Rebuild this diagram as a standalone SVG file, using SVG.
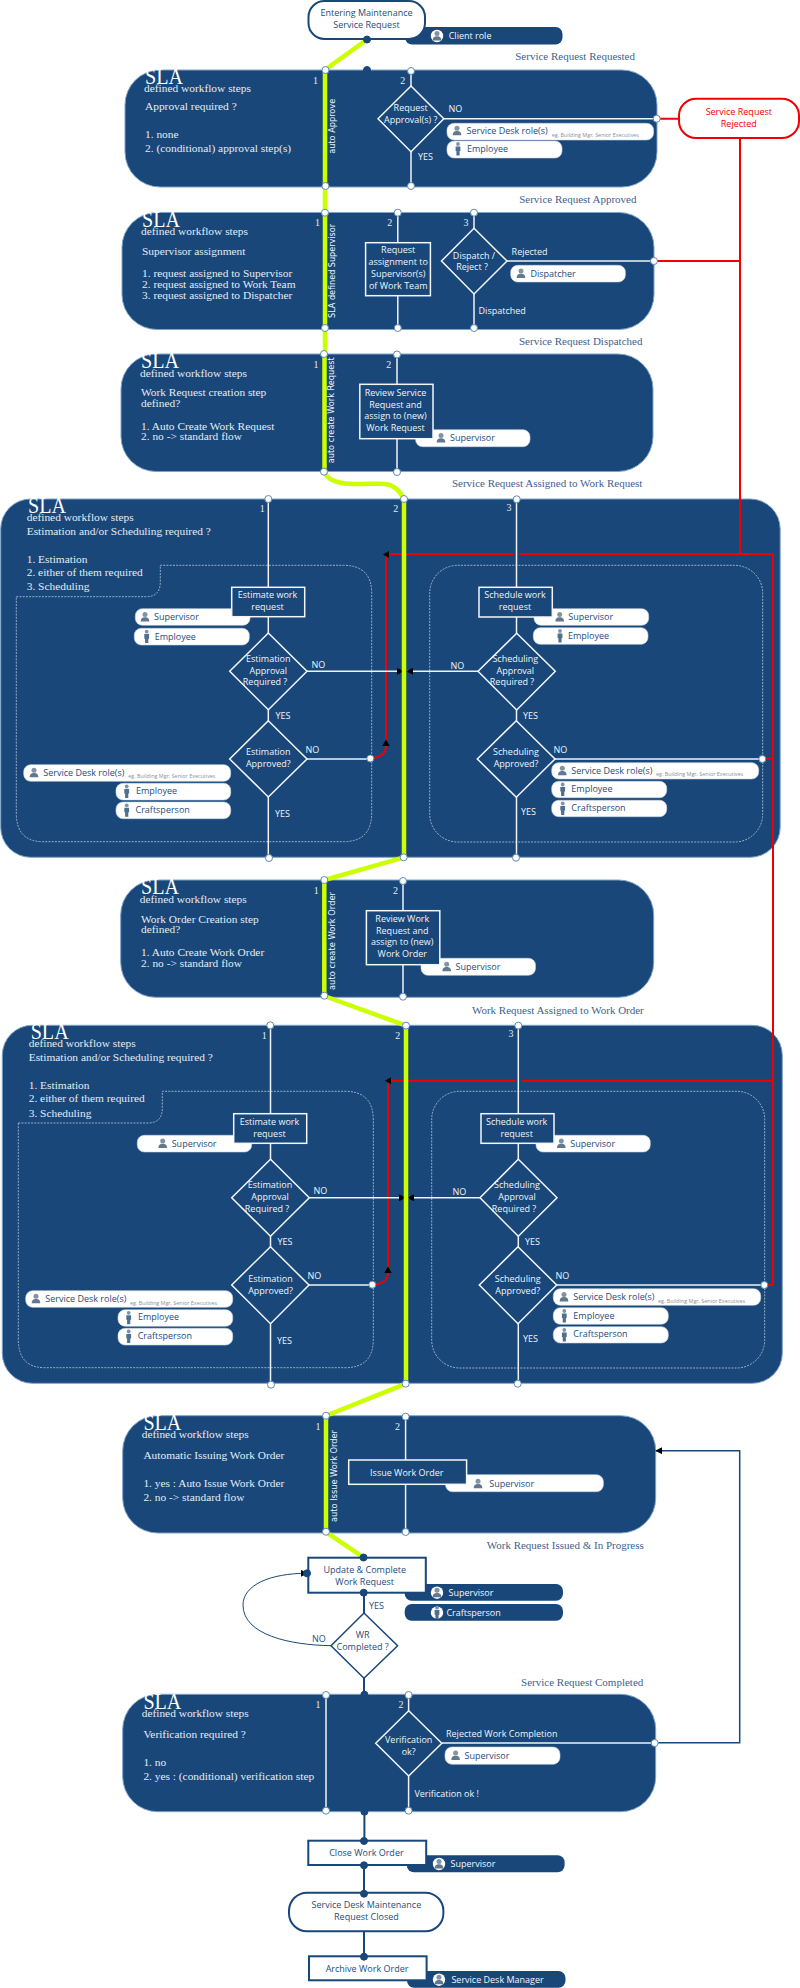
<svg xmlns="http://www.w3.org/2000/svg" width="800" height="1988" viewBox="0 0 800 1988">
<style>
.sw{fill:#19477a;stroke:#7ea3c8;stroke-width:1}
.wl{fill:none;stroke:#eef3f8;stroke-width:1.5}
.gr{fill:none;stroke:#ccff00;stroke-width:4.5}
.rd{fill:none;stroke:#f00000;stroke-width:2}
.nv{fill:none;stroke:#19477a;stroke-width:2}
.nt{fill:none;stroke:#19477a;stroke-width:1}
.dash{fill:none;stroke:#b9c9da;stroke-width:.8;stroke-dasharray:2 1.2}
.pd{fill:#fff;stroke:#5d8ab6;stroke-width:1}
.nd{fill:#19477a;stroke:#19477a;stroke-width:1}
.pw{fill:#fff;stroke:#c8d6e4;stroke-width:.6}
.pn{fill:#19477a}
.sb{fill:#19477a;stroke:#f2f6fa;stroke-width:1.5}
.fb{fill:#fff;stroke:#19477a;stroke-width:2}
.tm{fill:#fff;stroke:#19477a;stroke-width:2}
text{font-family:"Open Sans","Noto Sans",sans-serif;font-size:9px}
.t{fill:#f0f4f8;text-anchor:middle}
.l{fill:#f0f4f8}
.n{fill:#1f4b7c}
.nm{fill:#1f4b7c;text-anchor:middle}
.w{fill:#f4f7fa}
.eg{fill:#8b8f95;font-size:5.4px}
.r{fill:#f00000;text-anchor:middle}
.v{fill:#f0f4f8;text-anchor:middle;font-family:"DejaVu Sans",sans-serif;font-size:9px}
.se{font-family:"Liberation Serif",serif;font-size:11.4px;fill:#e4ebf2}
.sla{font-family:"Liberation Serif",serif;font-size:22.5px;fill:#fff}
.st{font-family:"Liberation Serif",serif;font-size:11px;fill:#3f628c;text-anchor:end}
.num{font-family:"Liberation Serif",serif;font-size:10px;fill:#e4ebf2;text-anchor:middle}
</style>
<defs>
<marker id="ab" viewBox="0 0 8 8" refX="7" refY="4" markerWidth="7" markerHeight="7" markerUnits="userSpaceOnUse" orient="auto"><path d="M0 0L8 4L0 8Z" fill="#000"/></marker>
<g id="ub"><circle cx="0" cy="-2.4" r="2.5" fill="#8293a6"/><path d="M-4.3 4.6C-4.3 1.2-2.6.2 0 .2S4.3 1.2 4.3 4.6Z" fill="#62788f"/></g>
<g id="man"><circle cx="0" cy="-5" r="1.9" fill="#7f92a6"/><path d="M-2.4-2.6H2.4V2H1.6V6.4H-1.6V2H-2.4Z" fill="#4f6f90"/></g>
<g id="ubc"><circle r="6.2" fill="#fff"/><use href="#ub"/></g>
<g id="manc"><circle r="6.2" fill="#fff"/><use href="#man"/></g>
</defs>

<g id="sla1"><rect class="sw" x="125" y="70" width="532" height="117" rx="35"/>
<text class="sla" x="145" y="84" textLength="38" lengthAdjust="spacingAndGlyphs">SLA</text><text class="se" x="144" y="92">defined workflow steps</text><text class="se" x="145" y="110">Approval required ?</text><text class="se" x="145" y="138">1. none</text><text class="se" x="145" y="152">2. (conditional) approval step(s)</text></g>
<g id="sla2"><rect class="sw" x="122" y="212.5" width="532" height="117" rx="35"/>
<text class="sla" x="142" y="226.5" textLength="38" lengthAdjust="spacingAndGlyphs">SLA</text><text class="se" x="141" y="235">defined workflow steps</text><text class="se" x="142" y="254.5">Supervisor assignment</text><text class="se" x="142" y="276.5">1. request assigned to Supervisor</text><text class="se" x="142" y="287.5">2. request assigned to Work Team</text><text class="se" x="142" y="299">3. request assigned to Dispatcher</text></g>
<g id="sla3"><rect class="sw" x="121" y="354" width="532" height="117.5" rx="35"/>
<text class="sla" x="141" y="368" textLength="38" lengthAdjust="spacingAndGlyphs">SLA</text><text class="se" x="140" y="376.5">defined workflow steps</text><text class="se" x="141" y="396">Work Request creation step</text><text class="se" x="141" y="407">defined?</text><text class="se" x="141" y="429.5">1. Auto Create Work Request</text><text class="se" x="141" y="440">2. no -&gt; standard flow</text></g>
<g id="sla4"><rect class="sw" x=".7" y="499" width="779.5" height="358.3" rx="30"/>
<text class="sla" x="28" y="513" textLength="38" lengthAdjust="spacingAndGlyphs">SLA</text><text class="se" x="26.7" y="521">defined workflow steps</text><text class="se" x="26.7" y="534.5">Estimation and/or Scheduling required ?</text><text class="se" x="26.7" y="562.5">1. Estimation</text><text class="se" x="26.7" y="576">2. either of them required</text><text class="se" x="26.7" y="590">3. Scheduling</text>
<path class="dash" d="M16.3 596.7H146Q160.3 596.7 160.3 582V565.3H343.3Q371.7 565.3 371.7 593.3V813Q371.7 841.7 343.3 841.7H43Q16.3 841.7 16.3 813Z"/><rect class="dash" x="429.7" y="565.3" width="333" height="276.7" rx="28"/></g>
<g id="sla5"><rect class="sw" x="120.7" y="880" width="533" height="117.3" rx="35"/>
<text class="sla" x="141" y="894" textLength="38" lengthAdjust="spacingAndGlyphs">SLA</text><text class="se" x="139.8" y="902.5">defined workflow steps</text><text class="se" x="141" y="922.5">Work Order Creation step</text><text class="se" x="141" y="933">defined?</text><text class="se" x="141" y="955.5">1. Auto Create Work Order</text><text class="se" x="141" y="966.5">2. no -&gt; standard flow</text></g>
<g id="sla6"><rect class="sw" x="2.3" y="1025.3" width="780" height="358" rx="30"/>
<text class="sla" x="30.7" y="1039.3" textLength="38" lengthAdjust="spacingAndGlyphs">SLA</text><text class="se" x="28.7" y="1047">defined workflow steps</text><text class="se" x="28.7" y="1061">Estimation and/or Scheduling required ?</text><text class="se" x="28.7" y="1089">1. Estimation</text><text class="se" x="28.7" y="1102">2. either of them required</text><text class="se" x="28.7" y="1116.5">3. Scheduling</text>
<path class="dash" d="M18.3 1123H148Q162.3 1123 162.3 1108V1091.3H345Q373.3 1091.3 373.3 1120V1339.5Q373.3 1367.7 345 1367.7H45Q18.3 1367.7 18.3 1339.5Z"/><rect class="dash" x="431.7" y="1091.3" width="333" height="276.7" rx="28"/></g>
<g id="sla7"><rect class="sw" x="122.7" y="1415.7" width="533" height="117.3" rx="35"/>
<text class="sla" x="143.4" y="1430" textLength="38" lengthAdjust="spacingAndGlyphs">SLA</text><text class="se" x="141.7" y="1438">defined workflow steps</text><text class="se" x="143.4" y="1459">Automatic Issuing Work Order</text><text class="se" x="143.4" y="1487">1. yes : Auto Issue Work Order</text><text class="se" x="143.4" y="1500.5">2. no -&gt; standard flow</text></g>
<g id="sla8"><rect class="sw" x="122.7" y="1694.3" width="533" height="117.4" rx="35"/>
<text class="sla" x="143.4" y="1708.5" textLength="38" lengthAdjust="spacingAndGlyphs">SLA</text><text class="se" x="141.7" y="1717">defined workflow steps</text><text class="se" x="143.4" y="1738">Verification required ?</text><text class="se" x="143.4" y="1766">1. no</text><text class="se" x="143.4" y="1779.5">2. yes : (conditional) verification step</text></g>

<g id="connectors">
<path class="rd" d="M740 138V554M657 118.7H679M656 261H740M773 554V758.5H764M773 758.5V1285H766M388 554H514M519 554H773M388 1080.7H516M521 1080.7H773"/>
<path class="rd" d="M373 758C382 757 386 753 386 745V555"/>
<path class="rd" d="M375 1284.5C384 1283.5 388 1279.5 388 1272V1081"/>
<path class="nt" style="stroke-width:1.5" d="M657 1742.7H739.7V1450.7H656" marker-end="url(#ab)"/>
<path class="wl" d="M325 70V187M411 71V186M397.8 212.7V328M474 212.7V328M397 354.5V472M268.3 499V858M516.5 499V857.7M403 881V996.7M270.5 1025.3V1384.7M518.3 1025.3V1383.7M405.6 1416.7V1532M326 1695V1810.7M408.6 1695V1810.7"/>
<path class="wl" d="M443.8 118.7H657M507 261H654M307 759H370M555 759H762M309 1285H372M556.7 1285H764M441.8 1743H654.7"/>
<path class="wl" d="M307 671.3H403" marker-end="url(#ab)"/><path class="wl" d="M478 671.3H407" marker-end="url(#ab)"/>
<path class="wl" d="M309.3 1197.8H405" marker-end="url(#ab)"/><path class="wl" d="M480 1197.8H408" marker-end="url(#ab)"/>
<path class="gr" d="M367 39.5L325 70V329V354M324.5 354V472M324.5 472C331 490 370 482 385 484C395 485 400 491 404 499V857.3L324.3 880V996L406 1025.6V1383.7L326 1415.7V1532L363.5 1557.3"/>
<path class="nv" d="M364 1592.7V1613M364 1678V1694.7M364.4 1811.7V1841M364 1865V1893M364 1931V1956.7"/>
<path class="nt" d="M331 1645.7C290 1645 243 1635 243 1605C243 1585 270 1573.3 307 1573.3" marker-end="url(#ab)"/>
<path d="M386 739.5l3.700 6.500h-7.400Z" fill="#000"/><path d="M383 554.500l6-3.500v7Z" fill="#000"/>
<path d="M388 1266.500l3.700 6.500h-7.400Z" fill="#000"/><path d="M385 1080.700l6-3.500v7Z" fill="#000"/>
</g>

<g id="ports">
<circle class="pd" cx="325.5" cy="70" r="3.5"/><circle class="pd" cx="325.5" cy="186" r="3.5"/><circle class="pd" cx="411" cy="71" r="3.5"/><circle class="pd" cx="411" cy="186" r="3.5"/><circle class="pd" cx="656.7" cy="118.7" r="3.5"/>
<circle class="pd" cx="325" cy="212.7" r="3.5"/><circle class="pd" cx="325" cy="328" r="3.5"/><circle class="pd" cx="397.8" cy="212.7" r="3.5"/><circle class="pd" cx="397.8" cy="328" r="3.5"/><circle class="pd" cx="474" cy="212.7" r="3.5"/><circle class="pd" cx="474" cy="328" r="3.5"/><circle class="pd" cx="654" cy="261" r="3.5"/>
<circle class="pd" cx="324" cy="354" r="3.5"/><circle class="pd" cx="324" cy="471.7" r="3.5"/><circle class="pd" cx="397" cy="354.5" r="3.5"/><circle class="pd" cx="397" cy="472" r="3.5"/>
<circle class="pd" cx="268.3" cy="499" r="3.5"/><circle class="pd" cx="404" cy="499" r="3.5"/><circle class="pd" cx="516.7" cy="499.3" r="3.5"/><circle class="pd" cx="269" cy="858" r="3.5"/><circle class="pd" cx="403.7" cy="857.3" r="3.5"/><circle class="pd" cx="516" cy="857.7" r="3.5"/><circle class="pd" cx="370.3" cy="758.5" r="3.5"/><circle class="pd" cx="762.3" cy="759" r="3.5"/>
<circle class="pd" cx="324.3" cy="880" r="3.5"/><circle class="pd" cx="324.3" cy="995.7" r="3.5"/><circle class="pd" cx="403" cy="881" r="3.5"/><circle class="pd" cx="403" cy="996.7" r="3.5"/>
<circle class="pd" cx="270.3" cy="1025.3" r="3.5"/><circle class="pd" cx="406" cy="1025.6" r="3.5"/><circle class="pd" cx="518.3" cy="1025.6" r="3.5"/><circle class="pd" cx="271" cy="1384.7" r="3.5"/><circle class="pd" cx="405.7" cy="1383.7" r="3.5"/><circle class="pd" cx="517.7" cy="1383.7" r="3.5"/><circle class="pd" cx="372.3" cy="1284.7" r="3.5"/><circle class="pd" cx="764.3" cy="1285" r="3.5"/>
<circle class="pd" cx="326" cy="1415.7" r="3.5"/><circle class="pd" cx="326" cy="1531.7" r="3.5"/><circle class="pd" cx="405.6" cy="1416.7" r="3.5"/><circle class="pd" cx="405.6" cy="1532" r="3.5"/>
<circle class="pd" cx="326" cy="1695" r="3.5"/><circle class="pd" cx="326" cy="1810.7" r="3.5"/><circle class="pd" cx="408.6" cy="1695" r="3.5"/><circle class="pd" cx="408.6" cy="1810.7" r="3.5"/><circle class="pd" cx="654.7" cy="1743" r="3.5"/>
<circle class="nd" cx="367" cy="70" r="3.5"/>
</g>

<g id="labels">
<text class="st" x="635" y="60">Service Request Requested</text>
<text class="st" x="636.5" y="202.5">Service Request Approved</text>
<text class="st" x="642.4" y="344.5">Service Request Dispatched</text>
<text class="st" x="642.4" y="486.5">Service Request Assigned to Work Request</text>
<text class="st" x="643.8" y="1014">Work Request Assigned to Work Order</text>
<text class="st" x="643.8" y="1549">Work Request Issued &amp; In Progress</text>
<text class="st" x="643.3" y="1686">Service Request Completed</text>
<text class="num" x="315.6" y="84">1</text><text class="num" x="402.7" y="84">2</text>
<text class="num" x="317.4" y="226">1</text><text class="num" x="389.7" y="226">2</text><text class="num" x="466" y="226">3</text>
<text class="num" x="316" y="367.5">1</text><text class="num" x="388.8" y="367.5">2</text>
<text class="num" x="262.3" y="512">1</text><text class="num" x="395.7" y="512">2</text><text class="num" x="509" y="510.5">3</text>
<text class="num" x="316.2" y="894">1</text><text class="num" x="395.4" y="894">2</text>
<text class="num" x="264.3" y="1038.5">1</text><text class="num" x="397.7" y="1038.5">2</text><text class="num" x="511" y="1036.5">3</text>
<text class="num" x="318" y="1429.5">1</text><text class="num" x="397.6" y="1429.5">2</text>
<text class="num" x="318" y="1708">1</text><text class="num" x="401" y="1708">2</text>
<text class="v" transform="translate(334.5 126.3) rotate(-90)" textLength="55" lengthAdjust="spacingAndGlyphs">auto Approve</text>
<text class="v" transform="translate(334.5 271) rotate(-90)" textLength="94" lengthAdjust="spacingAndGlyphs">SLA defined Supervisor</text>
<text class="v" transform="translate(333.5 410.3) rotate(-90)" textLength="106" lengthAdjust="spacingAndGlyphs">auto create Work Request</text>
<text class="v" transform="translate(334.5 941) rotate(-90)" textLength="98" lengthAdjust="spacingAndGlyphs">auto create Work Order</text>
<text class="v" transform="translate(336.5 1476) rotate(-90)" textLength="92" lengthAdjust="spacingAndGlyphs">auto Issue Work Order</text>
<text class="l" x="448.5" y="112">NO</text><text class="l" x="418" y="160">YES</text>
<text class="l" x="511.6" y="254.5">Rejected</text><text class="l" x="478.6" y="314">Dispatched</text>
<text class="l" x="311.5" y="667.5">NO</text><text class="l" x="275.5" y="718.5">YES</text><text class="l" x="305.5" y="752.5">NO</text><text class="l" x="275" y="817">YES</text>
<text class="l" x="450.5" y="668.5">NO</text><text class="l" x="523" y="718.5">YES</text><text class="l" x="553.5" y="752.5">NO</text><text class="l" x="521" y="815">YES</text>
<text class="l" x="313.5" y="1194">NO</text><text class="l" x="277.5" y="1244.5">YES</text><text class="l" x="307.5" y="1278.5">NO</text><text class="l" x="277" y="1343.5">YES</text>
<text class="l" x="452.5" y="1194.5">NO</text><text class="l" x="525" y="1245">YES</text><text class="l" x="555.5" y="1279">NO</text><text class="l" x="523" y="1341.5">YES</text>
<text class="n" x="369" y="1609">YES</text><text class="n" x="312" y="1642">NO</text>
<text class="l" x="446" y="1736.5">Rejected Work Completion</text><text class="l" x="414.4" y="1796.5">Verification ok !</text>
</g>

<g id="p-client"><rect class="pn" x="405" y="27" width="157.5" height="17.5" rx="7"/><use href="#ubc" x="437" y="36"/><text class="w" x="448.7" y="39">Client role</text></g>
<g id="start"><rect class="tm" x="308.5" y="1" width="116.5" height="38" rx="16"/><text class="nm" x="366.5" y="16">Entering Maintenance</text><text class="nm" x="366.5" y="28">Service Request</text><circle class="nd" cx="367" cy="39.5" r="3.5"/></g>
<g id="rejected"><rect x="679" y="98.7" width="120" height="39.3" rx="17" fill="#fff" stroke="#f00000" stroke-width="2"/><text class="r" x="738.8" y="115">Service Request</text><text class="r" x="738.8" y="127">Rejected</text></g>

<g id="d-approval"><polygon class="sb" points="411,86 443.8,118.7 411,151.7 378,118.7"/><text class="t" x="410.7" y="110.5">Request</text><text class="t" x="410.7" y="122.5">Approval(s) ?</text></g>
<g id="p-sd1"><rect class="pw" x="447" y="123.3" width="206.6" height="16.7" rx="7"/><use href="#ub" x="457" y="130.7"/><text class="n" x="466.5" y="134">Service Desk role(s)</text><text class="eg" x="551.8" y="136.5">eg. Building Mgr, Senior Executives</text></g>
<g id="p-emp1"><rect class="pw" x="447" y="141" width="115" height="17" rx="7"/><use href="#man" x="458" y="149"/><text class="n" x="467" y="152.3">Employee</text></g>

<g id="b-assign"><rect class="sb" x="365.6" y="242.7" width="64.8" height="53"/><text class="t" x="398.2" y="253">Request</text><text class="t" x="398.2" y="265">assignment to</text><text class="t" x="398.2" y="277">Supervisor(s)</text><text class="t" x="398.2" y="288.5">of Work Team</text></g>
<g id="d-dispatch"><polygon class="sb" points="474,228.3 507,261 474,294 441.5,261"/><text class="t" x="474" y="258.5">Dispatch /</text><text class="t" x="472" y="270">Reject ?</text></g>
<g id="p-disp"><rect class="pw" x="510.7" y="265.3" width="114.7" height="16.7" rx="7"/><use href="#ub" x="521" y="273.5"/><text class="n" x="530.4" y="276.8">Dispatcher</text></g>

<g id="p-sup3"><rect class="pw" x="415.6" y="429.7" width="114.4" height="17" rx="7"/><use href="#ub" x="441" y="438"/><text class="n" x="450" y="441.3">Supervisor</text></g>
<g id="b-review-sr"><rect class="sb" x="359.8" y="384.3" width="73.2" height="54.4"/><text class="t" x="395.5" y="395.5">Review Service</text><text class="t" x="395.5" y="407.5">Request and</text><text class="t" x="395.5" y="419">assign to (new)</text><text class="t" x="395.5" y="431">Work Request</text></g>

<g id="p-sup4a"><rect class="pw" x="135.3" y="608.7" width="114.7" height="16.6" rx="7"/><use href="#ub" x="145" y="617"/><text class="n" x="154" y="620.3">Supervisor</text></g>
<g id="p-emp4a"><rect class="pw" x="134.3" y="628.3" width="115" height="16.7" rx="7"/><use href="#man" x="146.7" y="636.7"/><text class="n" x="154.7" y="640">Employee</text></g>
<g id="b-est4"><rect class="sb" x="231.7" y="587.3" width="73" height="29.4"/><text class="t" x="267.5" y="598.3">Estimate work</text><text class="t" x="267.5" y="610.3">request</text></g>
<g id="d-est4a"><polygon class="sb" points="268.3,633 307,671.3 268.3,709.7 229.7,671.3"/><text class="t" x="268.3" y="662">Estimation</text><text class="t" x="268.3" y="673.8">Approval</text><text class="t" x="265" y="685.3">Required ?</text></g>
<g id="d-est4b"><polygon class="sb" points="268.3,720.7 307,759 268.3,797 229.7,759"/><text class="t" x="268.3" y="755.3">Estimation</text><text class="t" x="268.3" y="767.3">Approved?</text></g>
<g id="p-sd4a"><rect class="pw" x="23.7" y="764.7" width="207" height="16.6" rx="7"/><use href="#ub" x="34" y="772.7"/><text class="n" x="43.3" y="776">Service Desk role(s)</text><text class="eg" x="128.3" y="778">eg. Building Mgr, Senior Executives</text></g>
<g id="p-emp4b"><rect class="pw" x="116" y="783.3" width="114.7" height="16.7" rx="7"/><use href="#man" x="126.7" y="791.5"/><text class="n" x="136" y="794.3">Employee</text></g>
<g id="p-cra4a"><rect class="pw" x="116" y="802" width="114.7" height="16.7" rx="7"/><use href="#man" x="126.7" y="810.3"/><text class="n" x="135.5" y="813">Craftsperson</text></g>

<g id="p-sup4c"><rect class="pw" x="534" y="608.7" width="114.7" height="16.6" rx="7"/><use href="#ub" x="559.7" y="617"/><text class="n" x="568.3" y="620.3">Supervisor</text></g>
<g id="p-emp4c"><rect class="pw" x="533.3" y="627.7" width="114.7" height="16.6" rx="7"/><use href="#man" x="560" y="636"/><text class="n" x="568" y="639.3">Employee</text></g>
<g id="b-sch4"><rect class="sb" x="479" y="587.3" width="73.3" height="29.7"/><text class="t" x="515" y="598.3">Schedule work</text><text class="t" x="515" y="610.3">request</text></g>
<g id="d-sch4a"><polygon class="sb" points="516.7,633.3 555.3,671.3 516.7,710 478,671.3"/><text class="t" x="515.3" y="662">Scheduling</text><text class="t" x="515.3" y="674">Approval</text><text class="t" x="512" y="685.3">Required ?</text></g>
<g id="d-sch4b"><polygon class="sb" points="516.3,720.7 555,759 516.3,797.3 477.3,759"/><text class="t" x="516" y="755.3">Scheduling</text><text class="t" x="516" y="767.3">Approved?</text></g>
<g id="p-sd4c"><rect class="pw" x="551.7" y="762.7" width="207" height="16.3" rx="7"/><use href="#ub" x="562.3" y="770.7"/><text class="n" x="571.3" y="774">Service Desk role(s)</text><text class="eg" x="656" y="775.7">eg. Building Mgr, Senior Executives</text></g>
<g id="p-emp4d"><rect class="pw" x="551.7" y="781.3" width="115" height="16.4" rx="7"/><use href="#man" x="562.7" y="789.5"/><text class="n" x="571.3" y="792.3">Employee</text></g>
<g id="p-cra4c"><rect class="pw" x="551.7" y="800.3" width="115" height="16.4" rx="7"/><use href="#man" x="562.7" y="808.5"/><text class="n" x="571.3" y="811">Craftsperson</text></g>

<g id="p-sup5"><rect class="pw" x="421" y="958.3" width="114.5" height="17" rx="7"/><use href="#ub" x="446.7" y="966.7"/><text class="n" x="455.5" y="970">Supervisor</text></g>
<g id="b-review-wr"><rect class="sb" x="366.4" y="910.7" width="73.4" height="54"/><text class="t" x="402.3" y="921.5">Review Work</text><text class="t" x="402.3" y="933.5">Request and</text><text class="t" x="402.3" y="945">assign to (new)</text><text class="t" x="402.3" y="957">Work Order</text></g>

<g id="p-sup6a"><rect class="pw" x="137.3" y="1135.3" width="114.4" height="16.7" rx="7"/><use href="#ub" x="162.7" y="1143.5"/><text class="n" x="171.7" y="1146.6">Supervisor</text></g>
<g id="b-est6"><rect class="sb" x="233.7" y="1113.7" width="73" height="29.6"/><text class="t" x="269.5" y="1124.5">Estimate work</text><text class="t" x="269.5" y="1136.5">request</text></g>
<g id="d-est6a"><polygon class="sb" points="270.5,1159.3 309.3,1197.8 270.5,1236.3 231.7,1197.8"/><text class="t" x="270" y="1188.3">Estimation</text><text class="t" x="270" y="1200">Approval</text><text class="t" x="267" y="1212">Required ?</text></g>
<g id="d-est6b"><polygon class="sb" points="270.5,1246.7 309,1285 270.5,1323.7 231.7,1285"/><text class="t" x="270.5" y="1281.5">Estimation</text><text class="t" x="270.5" y="1293.5">Approved?</text></g>
<g id="p-sd6a"><rect class="pw" x="25.7" y="1290.7" width="207" height="16.6" rx="7"/><use href="#ub" x="36" y="1298.7"/><text class="n" x="45.3" y="1302">Service Desk role(s)</text><text class="eg" x="130" y="1304.5">eg. Building Mgr, Senior Executives</text></g>
<g id="p-emp6b"><rect class="pw" x="118" y="1309.7" width="114.7" height="16.6" rx="7"/><use href="#man" x="128.7" y="1317.8"/><text class="n" x="138" y="1320.3">Employee</text></g>
<g id="p-cra6a"><rect class="pw" x="118" y="1328.3" width="114.7" height="16.7" rx="7"/><use href="#man" x="128.7" y="1336.5"/><text class="n" x="137.7" y="1339.3">Craftsperson</text></g>

<g id="p-sup6c"><rect class="pw" x="536" y="1135.3" width="114.3" height="16.7" rx="7"/><use href="#ub" x="561.3" y="1143.5"/><text class="n" x="570.3" y="1146.5">Supervisor</text></g>
<g id="b-sch6"><rect class="sb" x="481" y="1113.7" width="73" height="29.6"/><text class="t" x="516.7" y="1124.5">Schedule work</text><text class="t" x="516.7" y="1136.5">request</text></g>
<g id="d-sch6a"><polygon class="sb" points="518.3,1159.3 557,1197.8 518.3,1236.3 480,1197.8"/><text class="t" x="517" y="1188.3">Scheduling</text><text class="t" x="517" y="1200">Approval</text><text class="t" x="514" y="1212">Required ?</text></g>
<g id="d-sch6b"><polygon class="sb" points="518,1246.7 556.7,1285 518,1323.7 479.3,1285"/><text class="t" x="517.7" y="1281.5">Scheduling</text><text class="t" x="517.7" y="1293.5">Approved?</text></g>
<g id="p-sd6c"><rect class="pw" x="553.3" y="1288.7" width="207.4" height="16.6" rx="7"/><use href="#ub" x="564" y="1296.8"/><text class="n" x="573.3" y="1300.3">Service Desk role(s)</text><text class="eg" x="658" y="1302.5">eg. Building Mgr, Senior Executives</text></g>
<g id="p-emp6d"><rect class="pw" x="553.3" y="1307.7" width="115" height="16.6" rx="7"/><use href="#man" x="564.3" y="1316"/><text class="n" x="573.3" y="1318.6">Employee</text></g>
<g id="p-cra6c"><rect class="pw" x="553.3" y="1326.7" width="115" height="16.3" rx="7"/><use href="#man" x="564.3" y="1335"/><text class="n" x="573.3" y="1337.3">Craftsperson</text></g>

<g id="p-sup7"><rect class="pw" x="445.5" y="1474.7" width="157.9" height="17" rx="7"/><use href="#ub" x="478" y="1483.7"/><text class="n" x="489.3" y="1487">Supervisor</text></g>
<g id="b-issue"><rect class="sb" x="348.7" y="1460" width="117.9" height="24.3"/><text class="t" x="406.8" y="1475.5">Issue Work Order</text></g>

<g id="p-sup-u"><rect class="pn" x="404.7" y="1584" width="158.3" height="16.7" rx="7"/><use href="#ubc" x="437" y="1592.7"/><text class="w" x="448.5" y="1596">Supervisor</text></g>
<g id="p-cra-u"><rect class="pn" x="404.7" y="1604" width="158.3" height="16.7" rx="7"/><use href="#manc" x="437" y="1612.7"/><text class="w" x="446.4" y="1616">Craftsperson</text></g>
<g id="b-update"><rect class="fb" x="308.3" y="1557.7" width="117.5" height="35"/><text class="nm" x="364.7" y="1573.3">Update &amp; Complete</text><text class="nm" x="364.7" y="1585">Work Request</text><circle class="nd" cx="363.5" cy="1557.5" r="3.5"/><circle class="nd" cx="363.7" cy="1592.7" r="3.5"/><circle class="nd" cx="307" cy="1573.3" r="3.5"/></g>
<g id="d-wr"><polygon points="364,1613 397.6,1645.7 364,1678.3 331,1645.7" fill="#fff" stroke="#19477a" stroke-width="1.5"/><text class="nm" x="362.6" y="1638">WR</text><text class="nm" x="362.6" y="1650">Completed ?</text></g>

<g id="d-verif"><polygon class="sb" points="408.7,1710.7 441.8,1743.3 408.7,1776 375.7,1743.3"/><text class="t" x="408.7" y="1743.3">Verification</text><text class="t" x="408.7" y="1755">ok?</text></g>
<g id="p-sup8"><rect class="pw" x="445" y="1747" width="115" height="17.3" rx="7"/><use href="#ub" x="455.6" y="1755.5"/><text class="n" x="464.5" y="1759">Supervisor</text></g>
<g id="n-dots8"><circle class="nd" cx="364.4" cy="1694.7" r="3.5"/><circle class="nd" cx="364.4" cy="1811.7" r="3.5"/></g>

<g id="p-sup-c"><rect class="pn" x="406.8" y="1855.3" width="157.8" height="17" rx="7"/><use href="#ubc" x="439" y="1864"/><text class="w" x="450.6" y="1867.3">Supervisor</text></g>
<g id="b-close"><rect class="fb" x="308.3" y="1840.7" width="117.9" height="24.3"/><text class="nm" x="366.4" y="1856">Close Work Order</text><circle class="nd" cx="364" cy="1841" r="3.5"/><circle class="nd" cx="364" cy="1865.3" r="3.5"/></g>
<g id="closed"><rect class="tm" x="289" y="1892.7" width="154.4" height="38.6" rx="18"/><text class="nm" x="366.4" y="1908.3">Service Desk Maintenance</text><text class="nm" x="366.4" y="1920.3">Request Closed</text><circle class="nd" cx="364" cy="1893.7" r="3.5"/></g>
<g id="p-mgr"><rect class="pn" x="407" y="1971" width="158.5" height="16.7" rx="7"/><use href="#ubc" x="439" y="1979.7"/><text class="w" x="451.4" y="1983">Service Desk Manager</text></g>
<g id="b-archive"><rect class="fb" x="309" y="1956.3" width="117.6" height="24"/><text class="nm" x="367" y="1972">Archive Work Order</text><circle class="nd" cx="364" cy="1956.7" r="3.5"/></g>
</svg>
